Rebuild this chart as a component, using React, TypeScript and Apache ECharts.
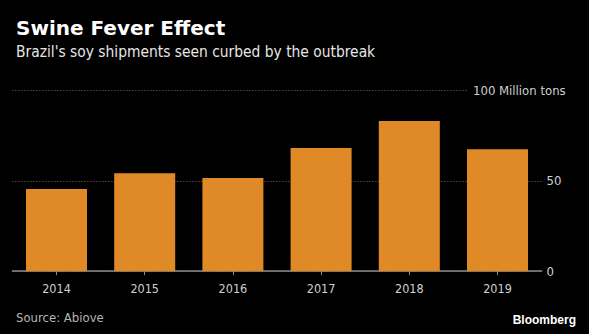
import { useEffect, useRef } from 'react';
import * as echarts from 'echarts';

const years = ['2014', '2015', '2016', '2017', '2018', '2019'];
const shipments = [45.6, 54.2, 51.7, 68.2, 83.2, 67.6];
const yMin = 0;
const yMax = 100;
const yStep = 50;
const unitSuffix = ' Million tons';
const titleText = 'Swine Fever Effect';
const subtitleText = "Brazil's soy shipments seen curbed by the outbreak";
const sourceText = 'Source: Abiove';
const brandText = 'Bloomberg';

const COND = '"DejaVu Sans Condensed", "DejaVu Sans", sans-serif';
const BOLD = '"DejaVu Sans", sans-serif';
const BRAND = '"Liberation Sans", Arial, sans-serif';

export default function App() {
  const ref = useRef<HTMLDivElement>(null);
  useEffect(() => {
    if (!ref.current) return;
    const chart = echarts.init(ref.current, null, { renderer: 'svg' });
    chart.setOption({
      animation: false,
      backgroundColor: '#000',
      textStyle: { fontFamily: COND },
      grid: { left: 12.4, right: 47.4, top: 90.7, bottom: 62.8, containLabel: false },
      xAxis: {
        type: 'category',
        data: years,
        axisLine: { show: true, lineStyle: { color: '#8a8a8a', width: 1.5 } },
        axisTick: { show: true, alignWithLabel: true, length: 4, lineStyle: { color: '#8a8a8a' } },
        axisLabel: { color: '#cfcfcf', fontSize: 12.5, margin: 11, fontFamily: COND },
        splitLine: { show: false },
      },
      yAxis: {
        type: 'value',
        position: 'right',
        min: yMin,
        max: yMax,
        interval: yStep,
        axisLine: { show: false },
        axisTick: { show: false },
        axisLabel: {
          color: '#cfcfcf',
          fontSize: 13,
          margin: 5,
          fontFamily: COND,
          formatter: (v: number) => (v === yMax ? '' : String(v)),
        },
        splitLine: { show: true, lineStyle: { color: '#707070', type: [1, 2], width: 1 } },
      },
      series: [
        {
          type: 'bar',
          data: shipments,
          barWidth: 61,
          itemStyle: { color: '#E08A27' },
        },
      ],
      graphic: [
        {
          type: 'text',
          x: 16,
          y: 28,
          style: {
            text: titleText,
            fill: '#fff',
            fontSize: 20,
            fontWeight: 'bold',
            fontFamily: BOLD,
            verticalAlign: 'middle',
          },
        },
        {
          type: 'text',
          x: 16,
          y: 51.5,
          style: {
            text: subtitleText,
            fill: '#e6e6e6',
            fontSize: 15.4,
            fontFamily: COND,
            verticalAlign: 'middle',
          },
        },
        {
          type: 'text',
          x: 467,
          y: 90.8,
          z: 100,
          style: {
            text: String(yMax) + unitSuffix,
            fill: '#cfcfcf',
            fontSize: 13,
            fontFamily: COND,
            verticalAlign: 'middle',
            backgroundColor: '#000',
            padding: [2, 0, 2, 6],
          },
        },
        {
          type: 'text',
          x: 16,
          y: 317,
          style: {
            text: sourceText,
            fill: '#b5b5b5',
            fontSize: 13,
            fontFamily: COND,
            verticalAlign: 'middle',
          },
        },
        {
          type: 'text',
          x: 576,
          y: 320,
          style: {
            text: brandText,
            fill: '#fff',
            fontSize: 12,
            fontWeight: 'bold',
            fontFamily: BRAND,
            align: 'right',
            verticalAlign: 'middle',
          },
        },
      ],
    });
    return () => chart.dispose();
  }, []);
  return (
    <div
      ref={ref}
      style={{ position: 'fixed', left: 0, top: 0, width: 589, height: 334, background: '#000' }}
    />
  );
}
